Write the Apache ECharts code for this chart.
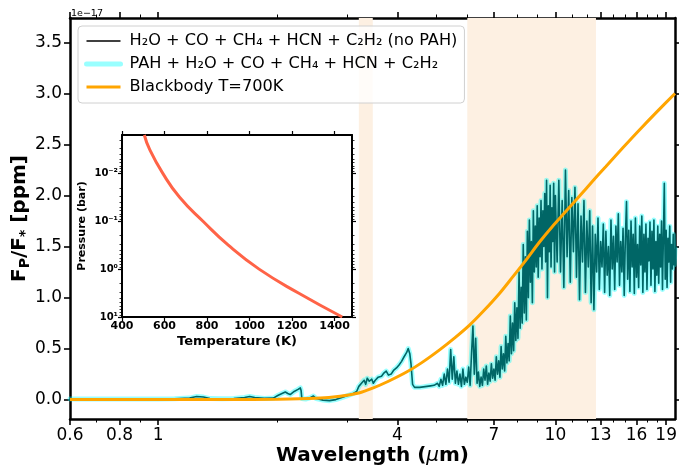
<!DOCTYPE html>
<html>
<head>
<meta charset="utf-8">
<script src="https://cdn.jsdelivr.net/npm/echarts@6/dist/echarts.min.js"></script>
<style>
html, body { margin: 0; padding: 0; background: #fff; }
#chart { width: 679px; height: 466px; }
</style>
</head>
<body>
<div id="chart"></div>
<script>
// emission spectrum, wavelength in micron, Fp/F* in units of 1e-17
const wavelength = [
    0.6, 0.7, 0.8, 0.9, 1.0, 1.1, 1.2, 1.25, 1.3, 1.35, 1.45, 1.55, 1.65, 1.7, 1.75, 1.85, 1.95,
    2.0, 2.05, 2.09, 2.12, 2.15, 2.2, 2.25, 2.28, 2.29, 2.3, 2.35, 2.42, 2.46, 2.5, 2.6, 2.7, 2.8, 2.9,
    3.0, 3.1, 3.16, 3.2, 3.25, 3.3, 3.33, 3.36, 3.4, 3.45, 3.48, 3.52, 3.58, 3.65, 3.7, 3.75, 3.8, 3.86, 3.92, 3.98,
    4.04, 4.1, 4.16, 4.22, 4.26, 4.28, 4.3, 4.33, 4.37, 4.42, 4.47, 4.55, 4.6, 4.65, 4.7, 4.75, 4.8, 4.85, 4.9, 4.95,
    5.0, 5.05, 5.1, 5.15, 5.2, 5.25, 5.3, 5.35, 5.4, 5.45, 5.5, 5.55, 5.6, 5.65, 5.7, 5.75, 5.8, 5.85, 5.9, 5.95,
    6.00, 6.05, 6.10, 6.15, 6.20, 6.25, 6.30, 6.35, 6.40, 6.45, 6.50, 6.55, 6.60, 6.65, 6.70, 6.75, 6.80, 6.85, 6.90, 6.95,
    7.00, 7.05, 7.10, 7.15, 7.20, 7.25, 7.30, 7.35, 7.40, 7.45, 7.50, 7.55, 7.60, 7.65, 7.70, 7.75, 7.80, 7.85, 7.90, 7.95,
    8.00, 8.05, 8.10, 8.15, 8.20, 8.25, 8.30, 8.35, 8.40, 8.45, 8.50, 8.55, 8.60, 8.65, 8.70, 8.75, 8.80, 8.85, 8.90, 8.95,
    9.00, 9.05, 9.10, 9.15, 9.20, 9.25, 9.30, 9.35, 9.40, 9.45, 9.50, 9.55, 9.60, 9.65, 9.70, 9.75, 9.80, 9.85, 9.90, 9.95,
    10.0, 10.1, 10.2, 10.3, 10.4, 10.5, 10.6, 10.7, 10.8, 10.9,
    11.0, 11.1, 11.2, 11.3, 11.4, 11.5, 11.6, 11.7, 11.8, 11.9,
    12.0, 12.1, 12.2, 12.3, 12.4, 12.5, 12.6, 12.7, 12.8, 12.9,
    13.0, 13.1, 13.2, 13.3, 13.4, 13.5, 13.6, 13.7, 13.8, 13.9,
    14.0, 14.1, 14.2, 14.3, 14.4, 14.5, 14.6, 14.7, 14.8, 14.9,
    15.0, 15.1, 15.2, 15.3, 15.4, 15.5, 15.6, 15.7, 15.8, 15.9,
    16.0, 16.1, 16.2, 16.3, 16.4, 16.5, 16.6, 16.7, 16.8, 16.9,
    17.0, 17.1, 17.2, 17.3, 17.4, 17.5, 17.6, 17.7, 17.8, 17.9,
    18.0, 18.1, 18.2, 18.3, 18.4, 18.5, 18.6, 18.7, 18.8, 18.9,
    19.0, 19.1, 19.2, 19.3, 19.4, 19.5, 19.6, 19.7, 19.8, 19.9, 20.0
];
const fluxNoPAH = [
    0.005, 0.006, 0.006, 0.007, 0.007, 0.008, 0.015, 0.03, 0.025, 0.01, 0.008, 0.01, 0.02, 0.03, 0.02, 0.012, 0.015,
    0.04, 0.06, 0.075, 0.06, 0.05, 0.08, 0.1, 0.115, 0.09, 0.01, 0.005, 0.02, 0.035, 0.01, -0.005, -0.01, 0.0, 0.02,
    0.04, 0.06, 0.08, 0.13, 0.16, 0.19, 0.15, 0.21, 0.18, 0.2, 0.16, 0.19, 0.22, 0.23, 0.26, 0.28, 0.24, 0.25, 0.29, 0.31,
    0.34, 0.375, 0.42, 0.46, 0.5, 0.51, 0.45, 0.35, 0.15, 0.12, 0.115, 0.12, 0.11, 0.125, 0.12, 0.13, 0.115, 0.135, 0.12, 0.14,
    0.13, 0.16, 0.13, 0.2, 0.14, 0.25, 0.15, 0.3, 0.17, 0.49, 0.2, 0.42, 0.16, 0.28, 0.15, 0.25, 0.13, 0.3, 0.15, 0.22,
    0.17, 0.32, 0.14, 0.45, 0.72, 0.25, 0.60, 0.16, 0.27, 0.13, 0.22, 0.14, 0.30, 0.19, 0.33, 0.15, 0.26, 0.18, 0.35, 0.21,
    0.30, 0.19, 0.42, 0.25, 0.38, 0.22, 0.52, 0.30, 0.45, 0.28, 0.62, 0.36, 0.55, 0.38, 0.82, 0.45, 0.75, 0.48, 0.95, 0.58,
    0.90, 0.60, 1.25, 0.70, 1.10, 0.75, 1.52, 0.85, 1.40, 0.78, 1.65, 1.00, 1.76, 1.15, 1.55, 0.95, 1.85, 1.25, 1.70, 1.30,
    1.90, 1.20, 1.78, 1.40, 1.95, 1.28, 1.85, 1.50, 2.02, 1.35, 2.15, 1.00, 1.90, 1.45, 2.10, 1.30, 1.88, 1.55, 2.12, 1.25,
    2.00, 1.35, 2.15, 1.25, 1.95, 1.10, 2.25, 1.40, 2.05, 1.15,
    1.98, 1.45, 2.08, 1.20, 1.92, 0.98, 1.80, 1.35, 1.95, 1.05,
    1.75, 1.30, 1.85, 0.95, 1.70, 0.88, 1.62, 1.25, 1.78, 1.08,
    1.55, 1.30, 1.72, 1.05, 1.65, 1.22, 1.50, 1.02, 1.76, 1.28,
    1.60, 1.08, 1.70, 1.35, 1.82, 1.12, 1.55, 1.25, 1.68, 1.02,
    1.58, 1.94, 1.18, 1.66, 1.06, 1.75, 1.30, 1.62, 1.04, 1.78,
    1.20, 1.52, 1.10, 1.70, 1.32, 1.80, 1.05, 1.62, 1.25, 1.72,
    1.08, 1.58, 1.36, 1.74, 1.12, 1.65, 1.28, 1.76, 1.06, 1.55,
    1.22, 1.70, 1.14, 1.62, 1.30, 1.75, 1.08, 1.60, 2.12, 1.18,
    1.66, 1.10, 1.58, 1.35, 1.70, 1.15, 1.52, 1.28, 1.62, 1.32, 1.48
];
// the PAH run is indistinguishable from the no-PAH one at this scale
const fluxPAH = fluxNoPAH.slice();

// blackbody T=700K
const bbWave = [0.6, 1.0, 1.5, 2.0, 2.5, 2.87, 3.2, 3.48, 3.8, 4.22, 4.6, 5.12, 5.6, 6.08, 6.6, 7.23, 7.8, 8.44, 9.1, 9.84, 10.6, 11.5, 12.4, 13.4, 14.8, 16.25, 18.0, 20.0];
const bbFlux = [0, 0, 0.0005, 0.003, 0.013, 0.032, 0.065, 0.115, 0.18, 0.27, 0.36, 0.49, 0.61, 0.73, 0.87, 1.04, 1.2, 1.37, 1.54, 1.70, 1.84, 1.995, 2.14, 2.285, 2.47, 2.64, 2.82, 3.0];

// inset: temperature-pressure profile
const ptTemp = [505, 530, 592, 671, 781, 900, 1045, 1230, 1436];
const ptPressure = [0.00158, 0.00316, 0.01, 0.0316, 0.1, 0.316, 1, 3.16, 10];

// shaded bands (micron)
const bands = [[3.2, 3.47], [6.0, 12.65]];

const xTickLabels = [0.6, 0.8, 1, 4, 7, 10, 13, 16, 19];
const xMinorTicks = [0.7, 0.9, 2, 3, 5, 6, 8, 9, 11, 12, 14, 15, 17, 18];
const yTicks = [0, 0.5, 1, 1.5, 2, 2.5, 3, 3.5];
const tempTicks = [400, 600, 800, 1000, 1200, 1400];
const pressureTicks = [0.01, 0.1, 1, 10];
const pressureLabels = ['10⁻²', '10⁻¹', '10⁰', '10¹'];
const pressureMinor = [0.002, 0.003, 0.004, 0.005, 0.006, 0.007, 0.008, 0.009,
    0.02, 0.03, 0.04, 0.05, 0.06, 0.07, 0.08, 0.09,
    0.2, 0.3, 0.4, 0.5, 0.6, 0.7, 0.8, 0.9,
    2, 3, 4, 5, 6, 7, 8, 9];

const legendNames = [
    'H₂O + CO + CH₄ + HCN + C₂H₂ (no PAH)',
    'PAH + H₂O + CO + CH₄ + HCN + C₂H₂',
    'Blackbody T=700K'
];

const font = 'DejaVu Sans';
const black = '#000';

// axis that only draws ticks (and optionally the spine)
function tickAxis(base, position, ticks, len, width, showLine, spineWidth) {
    return Object.assign({}, base, {
        position: position,
        axisLine: { show: showLine, onZero: false, lineStyle: { color: black, width: spineWidth || 2.5 } },
        axisTick: { show: true, customValues: ticks, length: len, lineStyle: { color: black, width: width } },
        axisLabel: { show: false },
        splitLine: { show: false }
    });
}

const mainX = { type: 'log', logBase: 10, min: 0.6, max: 20, gridIndex: 0 };
const mainY = { type: 'value', min: -0.19, max: 3.74, gridIndex: 0 };
const insetX = { type: 'value', min: 400, max: 1482, gridIndex: 1 };
const insetY = { type: 'log', logBase: 10, min: 0.00158, max: 10, inverse: true, gridIndex: 1 };

const chart = echarts.init(document.getElementById('chart'));
chart.setOption({
    animation: false,
    backgroundColor: '#fff',
    textStyle: { fontFamily: font },
    grid: [
        { left: 70, top: 18, right: 4, bottom: 47, containLabel: false, outerBoundsMode: 'none' },
        { left: 122, top: 135, width: 230, height: 182, containLabel: false, outerBoundsMode: 'none',
          show: true, backgroundColor: '#fff', borderWidth: 0 }
    ],
    legend: {
        orient: 'vertical',
        left: 78,
        top: 26,
        padding: [7, 7, 8, 6],
        itemWidth: 34,
        itemHeight: 15,
        itemGap: 7,
        backgroundColor: 'rgba(255,255,255,0.8)',
        borderColor: '#d0d0d0',
        borderWidth: 1,
        borderRadius: 4,
        itemStyle: { opacity: 0 },
        lineStyle: { width: 'inherit' },
        textStyle: { color: black, fontSize: 16.2, fontFamily: font, padding: [0, 0, 0, 4] },
        data: [
            { name: legendNames[0], lineStyle: { width: 1.3 } },
            { name: legendNames[1] },
            { name: legendNames[2] }
        ]
    },
    graphic: [{
        type: 'text', left: 71, top: 9,
        style: { text: '1e−17', fontSize: 9.5, fontFamily: font, fill: '#000' }
    }],
    xAxis: [
        Object.assign({}, mainX, {
            position: 'bottom',
            axisLine: { show: true, onZero: false, lineStyle: { color: black, width: 2.5 } },
            axisTick: { show: true, customValues: xTickLabels, length: 6, lineStyle: { color: black, width: 1.6 } },
            axisLabel: {
                customValues: xTickLabels, margin: 8, color: black, fontSize: 17, fontFamily: font,
                formatter: v => String(+(+v).toPrecision(3))
            },
            splitLine: { show: false },
            name: '{b|Wavelength (}{mu|μ}{b|m)}',
            nameLocation: 'middle',
            nameGap: 27,
            nameMoveOverlap: false,
            nameTextStyle: {
                rich: {
                    b: { fontSize: 20, fontWeight: 'bold', fontFamily: font, color: black },
                    mu: { fontSize: 20, fontStyle: 'italic', fontFamily: font, color: black }
                }
            }
        }),
        tickAxis(mainX, 'bottom', xMinorTicks, 3.5, 1, false),
        tickAxis(mainX, 'top', xTickLabels, 6, 1.6, true),
        tickAxis(mainX, 'top', xMinorTicks, 3.5, 1, false),
        Object.assign({}, insetX, {
            position: 'bottom',
            axisLine: { show: true, onZero: false, lineStyle: { color: black, width: 2 } },
            axisTick: { show: true, customValues: tempTicks, length: 4, lineStyle: { color: black, width: 1.2 } },
            axisLabel: {
                customValues: tempTicks, margin: 4, color: black, fontSize: 11, fontWeight: 'bold', fontFamily: font,
                formatter: v => String(Math.round(v))
            },
            splitLine: { show: false },
            name: 'Temperature (K)',
            nameLocation: 'middle',
            nameGap: 18,
            nameMoveOverlap: false,
            nameTextStyle: { fontSize: 13, fontWeight: 'bold', fontFamily: font, color: black }
        }),
        tickAxis(insetX, 'top', tempTicks, 4, 1.2, true, 2)
    ],
    yAxis: [
        Object.assign({}, mainY, {
            position: 'left',
            axisLine: { show: true, onZero: false, lineStyle: { color: black, width: 2.5 } },
            axisTick: { show: true, customValues: yTicks, length: 6, lineStyle: { color: black, width: 1.6 } },
            axisLabel: {
                customValues: yTicks, margin: 8, color: black, fontSize: 17, fontFamily: font,
                formatter: v => (+v).toFixed(1)
            },
            splitLine: { show: false },
            name: '{b|F}{s|P}{b|/F}{s|*}{b| [ppm]}',
            nameLocation: 'middle',
            nameGap: 38,
            nameMoveOverlap: false,
            nameTextStyle: {
                rich: {
                    b: { fontSize: 20, fontWeight: 'bold', fontFamily: font, color: black, lineHeight: 24 },
                    s: { fontSize: 14, fontWeight: 'bold', fontFamily: font, color: black, lineHeight: 14, verticalAlign: 'bottom' }
                }
            }
        }),
        tickAxis(mainY, 'right', yTicks, 6, 1.6, true),
        Object.assign({}, insetY, {
            position: 'left',
            axisLine: { show: true, onZero: false, lineStyle: { color: black, width: 2 } },
            axisTick: { show: true, customValues: pressureTicks, length: 4, lineStyle: { color: black, width: 1.2 } },
            axisLabel: {
                customValues: pressureTicks, margin: 4, color: black, fontSize: 10, fontWeight: 'bold', fontFamily: font,
                formatter: v => {
                    const i = pressureTicks.findIndex(p => Math.abs(Math.log10(p) - Math.log10(v)) < 0.01);
                    return i >= 0 ? pressureLabels[i] : '';
                }
            },
            splitLine: { show: false },
            name: 'Pressure (bar)',
            nameLocation: 'middle',
            nameGap: 34,
            nameMoveOverlap: false,
            nameTextStyle: { fontSize: 11, fontWeight: 'bold', fontFamily: font, color: black }
        }),
        tickAxis(insetY, 'left', pressureMinor, 2.5, 0.8, false),
        tickAxis(insetY, 'right', pressureTicks, 4, 1.2, true, 2),
        tickAxis(insetY, 'right', pressureMinor, 2.5, 0.8, false)
    ],
    series: [
        {
            name: legendNames[0],
            type: 'line',
            xAxisIndex: 0, yAxisIndex: 0,
            data: wavelength.map((w, i) => [w, fluxNoPAH[i]]),
            symbol: 'none',
            lineStyle: { color: black, width: 1.6, join: 'round' },
            itemStyle: { color: black },
            z: 2,
            markArea: {
                silent: true,
                label: { show: false },
                itemStyle: { color: '#fdf0e2' },
                data: bands.map(b => [{ xAxis: b[0] }, { xAxis: b[1] }])
            }
        },
        {
            name: legendNames[1],
            type: 'line',
            xAxisIndex: 0, yAxisIndex: 0,
            data: wavelength.map((w, i) => [w, fluxPAH[i]]),
            symbol: 'none',
            lineStyle: { color: '#00ffff', width: 5, opacity: 0.4, join: 'round', cap: 'round' },
            itemStyle: { color: '#00ffff' },
            z: 3
        },
        {
            name: legendNames[2],
            type: 'line',
            xAxisIndex: 0, yAxisIndex: 0,
            data: bbWave.map((w, i) => [w, bbFlux[i]]),
            smooth: 0.3,
            symbol: 'none',
            lineStyle: { color: '#ffa500', width: 3 },
            itemStyle: { color: '#ffa500' },
            z: 4
        },
        {
            name: 'PT profile',
            type: 'line',
            xAxisIndex: 4, yAxisIndex: 2,
            data: ptTemp.map((t, i) => [t, ptPressure[i]]),
            smooth: true,
            symbol: 'none',
            lineStyle: { color: '#ff6347', width: 3 },
            itemStyle: { color: '#ff6347' },
            z: 5
        }
    ]
});
</script>
</body>
</html>
